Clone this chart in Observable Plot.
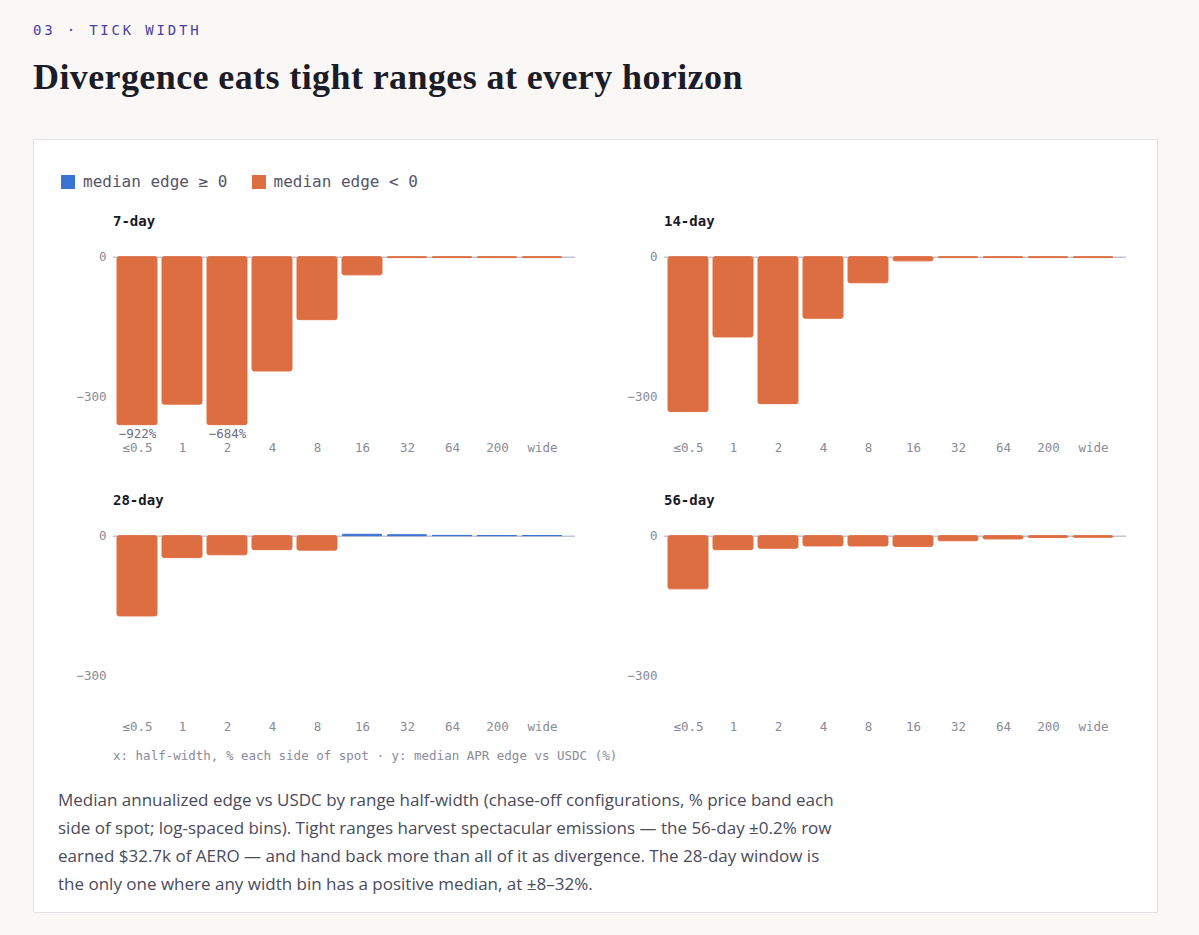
<!DOCTYPE html>
<html>
<head>
<meta charset="utf-8">
<script src="https://cdn.jsdelivr.net/npm/d3@7"></script>
<script src="https://cdn.jsdelivr.net/npm/@observablehq/plot@0.6"></script>
<style>
  html, body { margin: 0; padding: 0; background: #f9f8f6; }
  body { width: 1199px; }
  .mono { font-family: "DejaVu Sans Mono", "Liberation Mono", monospace; }
  #root { padding: 20px 0 0 33px; }
  .kicker { font-size: 14px; line-height: 20px; letter-spacing: 2.8px; color: #4b3fa0; }
  h1 { margin: 17px 0 0 0; font-family: "Liberation Serif", serif; font-weight: 700; font-size: 36px; line-height: 40px; color: #1c1c28; letter-spacing: 0.4px; }
  .card { margin-top: 42px; width: 1125px; box-sizing: border-box; background: #fff; border: 1px solid #e2e2e7; padding: 32px 0 14px 27px; }
  .legend { display: flex; align-items: center; font-size: 16px; line-height: 20px; color: #55556a; }
  .legend .sw { width: 14px; height: 14px; display: inline-block; margin-right: 8px; }
  .legend .item { display: flex; align-items: center; margin-right: 24px; }
  .grid { margin-top: 19px; display: grid; grid-template-columns: 530px 530px; column-gap: 21px; row-gap: 26px; }
  .ptitle { font-size: 14px; font-weight: 700; line-height: 20px; color: #1a1a24; padding-left: 52px; }
  .axcap { margin-top: 5px; padding-left: 52px; font-size: 12.5px; line-height: 16px; color: #8a8a99; }
  .para { margin: 22px 0 0 -3px; white-space: nowrap; font-family: "Open Sans", sans-serif; font-size: 17px; line-height: 28px; color: #4a4a5c; }
</style>
</head>
<body>
<div id="root">
  <div class="kicker mono">03 · TICK WIDTH</div>
  <h1>Divergence eats tight ranges at every horizon</h1>
  <div class="card">
    <div class="legend mono" id="legend"></div>
    <div class="grid" id="grid"></div>
    <div class="axcap mono">x: half-width, % each side of spot · y: median APR edge vs USDC (%)</div>
    <div class="para">Median annualized edge vs USDC by range half-width (chase-off configurations, % price band each<br>side of spot; log-spaced bins). Tight ranges harvest spectacular emissions — the 56-day ±0.2% row<br>earned $32.7k of AERO — and hand back more than all of it as divergence. The 28-day window is<br>the only one where any width bin has a positive median, at ±8–32%.</div>
  </div>
</div>
<script>
// ---- data ----
const bins = ["≤0.5", "1", "2", "4", "8", "16", "32", "64", "200", "wide"];
const horizons = ["7-day", "14-day", "28-day", "56-day"];
const edge7  = [-922, -316, -684, -245, -135, -39, -2, -2, -2, -2];
const edge14 = [-332, -172, -315, -132, -56, -9, -2, -2, -2, -2];
const edge28 = [-172, -47, -41, -30, -31, 3, 2, 0.6, 0.4, 0.4];
const edge56 = [-114, -30, -27, -22, -22, -23, -11, -7, -4, -3.5];
const yTicks = [-300, 0];
const legendLabels = ["median edge ≥ 0", "median edge < 0"];
const CLIP = -360;

const BLUE = "#3b73d3";
const ORANGE = "#dd6e41";
const series = [edge7, edge14, edge28, edge56];

// legend
const legend = document.getElementById("legend");
[BLUE, ORANGE].forEach((c, i) => {
  const it = document.createElement("span");
  it.className = "item";
  it.innerHTML = `<span class="sw" style="background:${c}"></span>${legendLabels[i]}`;
  legend.appendChild(it);
});

const fmtPct = v => String(v).replace("-", "\u2212") + "%";

function panel(title, values) {
  const data = bins.map((b, i) => ({bin: b, v: values[i], sign: values[i] >= 0 ? "pos" : "neg"}));
  const W = 530;
  const svg = Plot.plot({
    width: W, height: 233,
    marginLeft: 52, marginRight: 16, marginTop: 21, marginBottom: 30,
    style: {fontFamily: '"DejaVu Sans Mono", "Liberation Mono", monospace', fontSize: "12.5px", color: "#8a8a99", background: "transparent"},
    x: {domain: bins, range: [52, W - 16 - 9], paddingInner: 0.117, paddingOuter: 0.066, label: null, tickSize: 0, tickPadding: 9},
    y: {domain: [-380, 10], ticks: yTicks, label: null, tickSize: 0, tickPadding: 7},
    color: {domain: ["pos", "neg"], range: [BLUE, ORANGE]},
    marks: [
      Plot.ruleY([0], {stroke: "#a3a9b8", strokeWidth: 1}),
      Plot.barY(data, {x: "bin", y: d => Math.max(d.v, CLIP), fill: "sign", stroke: "sign", strokeWidth: 1, rx: 2}),
      Plot.text(data.filter(d => d.v < CLIP), {x: "bin", y: CLIP, text: d => fmtPct(d.v), dy: 9, fill: "#6e6e80", fontSize: 12.5})
    ]
  });
  const wrap = document.createElement("div");
  const t = document.createElement("div");
  t.className = "ptitle mono";
  t.textContent = title;
  wrap.appendChild(t);
  svg.style.display = "block";
  wrap.appendChild(svg);
  return wrap;
}

const grid = document.getElementById("grid");
horizons.forEach((h, i) => grid.appendChild(panel(h, series[i])));
</script>
</body>
</html>
